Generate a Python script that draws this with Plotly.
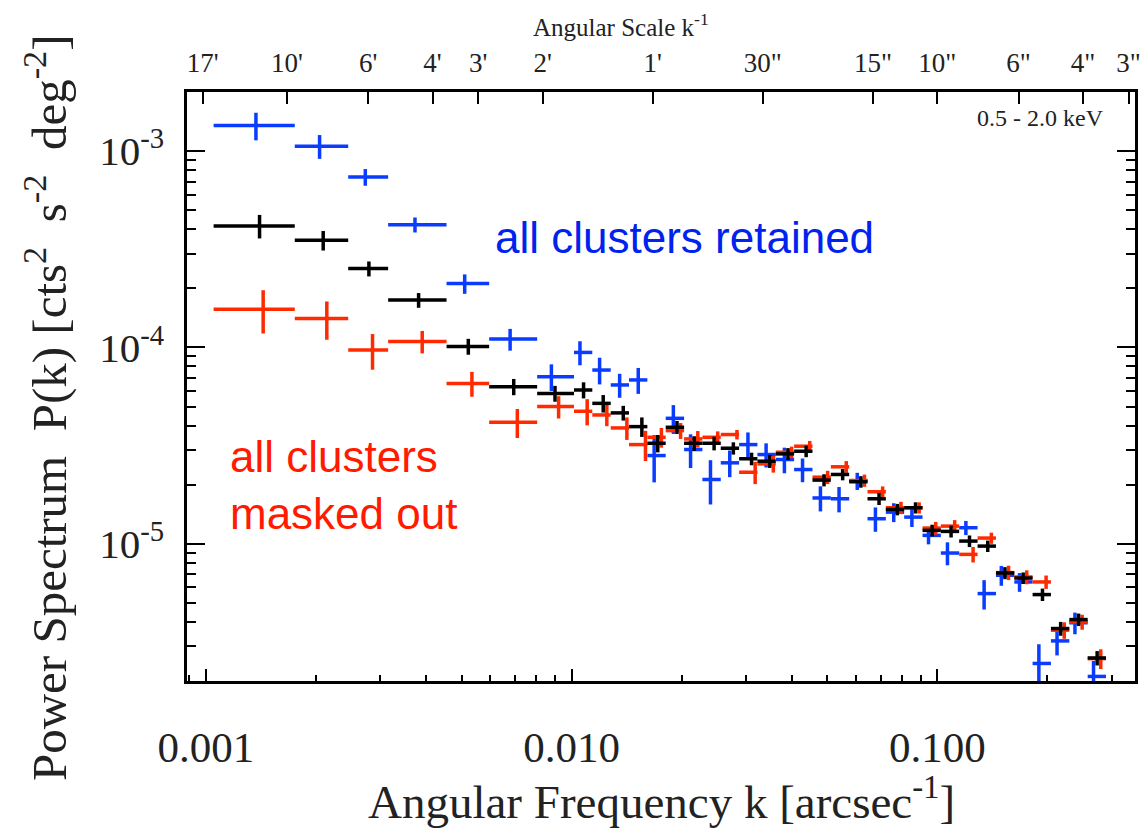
import plotly.graph_objects as go

# ---------------- data ----------------
# bin edges in angular frequency k [arcsec^-1]
k_edges = [0.00105, 0.00175, 0.00245, 0.00315, 0.00455, 0.00595, 0.00805, 0.01015,
           0.01139, 0.01279, 0.01435, 0.01611, 0.01808, 0.02030, 0.02278, 0.02557,
           0.02870, 0.03221, 0.03616, 0.04058, 0.04555, 0.05113, 0.05739, 0.06441,
           0.07229, 0.08114, 0.09108, 0.1022, 0.1147, 0.1288, 0.1446, 0.1623,
           0.1821, 0.2044, 0.2295, 0.2576, 0.2891]
# bin centres
k_center = [0.001402, 0.002093, 0.002791, 0.003816, 0.005218, 0.006945, 0.009006,
            0.01078, 0.01220, 0.01384, 0.01556, 0.01720, 0.01941, 0.02163, 0.02452,
            0.02768, 0.03104, 0.03480, 0.03905, 0.04377, 0.04899, 0.05508, 0.06177,
            0.06926, 0.07772, 0.08714, 0.09674, 0.1090, 0.1224, 0.1373, 0.1530,
            0.1716, 0.1938, 0.2173, 0.2432, 0.2734]

# all clusters retained (blue)
p_retained = [1.351e-3, 1.060e-3, 7.38e-4, 4.22e-4, 2.115e-4, 1.103e-4, 7.1e-5, 9.43e-5,
              7.67e-5, 6.44e-5, 6.83e-5, 2.814e-5, 4.355e-5, 3.02e-5, 2.125e-5, 2.584e-5,
              3.2e-5, 2.847e-5, 2.686e-5, 2.388e-5, 1.711e-5, 1.695e-5, 2.088e-5, 1.341e-5,
              1.449e-5, 1.367e-5, 1.103e-5, 8.97e-6, 1.207e-5, 5.575e-6, 6.91e-6, 6.39e-6,
              2.457e-6, 3.2e-6, 3.96e-6, 2.11e-6]
e_retained = [2.17e-4, 1.47e-4, 7.2e-5, 3.7e-5, 2.4e-5, 1.4e-5, 1.1e-5, 1.32e-5,
              1.19e-5, 9.0e-6, 1.03e-5, 7.6e-6, 7.3e-6, 5.9e-6, 5.4e-6, 4.0e-6,
              4.9e-6, 4.0e-6, 4.0e-6, 3.3e-6, 2.5e-6, 2.5e-6, 2.1e-6, 1.9e-6,
              1.6e-6, 1.5e-6, 1.1e-6, 1.2e-6, 1.0e-6, 9.5e-7, 8.0e-7, 7.0e-7,
              6.2e-7, 5.0e-7, 5.0e-7, 4.2e-7]

# intermediate (black)
p_mid = [4.16e-4, 3.516e-4, 2.52e-4, 1.742e-4, 1.012e-4, 6.31e-5, 5.83e-5, 6.07e-5,
         5.19e-5, 4.64e-5, 3.95e-5, 3.25e-5, 3.92e-5, 3.25e-5, 3.25e-5, 3.066e-5,
         2.71e-5, 2.633e-5, 2.87e-5, 2.96e-5, 2.11e-5, 2.254e-5, 2.07e-5, 1.695e-5,
         1.496e-5, 1.526e-5, 1.17e-5, 1.156e-5, 1.032e-5, 9.73e-6, 7.10e-6, 6.69e-6,
         5.51e-6, 3.70e-6, 4.11e-6, 2.62e-6]
e_mid = [5.7e-5, 4.0e-5, 2.2e-5, 1.5e-5, 9.4e-6, 6.0e-6, 5.4e-6, 5.7e-6,
         5.3e-6, 4.0e-6, 4.5e-6, 3.3e-6, 3.0e-6, 2.8e-6, 2.6e-6, 2.2e-6,
         2.0e-6, 2.0e-6, 2.0e-6, 2.0e-6, 1.5e-6, 1.5e-6, 1.4e-6, 1.2e-6,
         1.0e-6, 1.0e-6, 8.0e-7, 8.0e-7, 7.0e-7, 6.5e-7, 5.0e-7, 4.5e-7,
         4.0e-7, 3.0e-7, 3.0e-7, 2.2e-7]

# all clusters masked out (red)
p_masked = [1.567e-4, 1.404e-4, 9.7e-5, 1.073e-4, 6.56e-5, 4.157e-5, 4.995e-5, 4.73e-5,
            4.53e-5, 3.89e-5, 3.2e-5, 3.486e-5, 3.77e-5, 3.42e-5, 3.486e-5, 3.6e-5,
            2.314e-5, 2.553e-5, 2.925e-5, 3.14e-5, 2.183e-5, 2.466e-5, 2.10e-5, 1.84e-5,
            1.526e-5, 1.526e-5, 1.202e-5, 1.23e-5, 8.83e-6, 1.069e-5, 7.13e-6, 6.77e-6,
            6.39e-6, 3.63e-6, 4.0e-6, 2.6e-6]
e_masked = [3.9e-5, 3.1e-5, 2.0e-5, 1.4e-5, 9.5e-6, 7.0e-6, 6.5e-6, 7.2e-6,
            5.6e-6, 5.1e-6, 5.6e-6, 4.0e-6, 3.5e-6, 3.3e-6, 2.5e-6, 2.0e-6,
            3.0e-6, 2.5e-6, 2.0e-6, 2.0e-6, 1.7e-6, 1.7e-6, 1.5e-6, 1.2e-6,
            1.1e-6, 1.0e-6, 9.0e-7, 9.0e-7, 8.0e-7, 7.0e-7, 6.0e-7, 5.5e-7,
            5.0e-7, 3.5e-7, 3.5e-7, 3.0e-7]

# top axis: angular scale in arcsec and its labels
scale_arcsec = [1020, 600, 360, 240, 180, 120, 60, 30, 15, 10, 6, 4, 3]
scale_labels = ["17'", "10'", "6'", "4'", "3'", "2'", "1'", '30"', '15"', '10"', '6"', '4"', '3"']

x_tickvals = [0.001, 0.01, 0.1]
x_ticktext = ["0.001", "0.010", "0.100"]
y_tickvals = [1e-3, 1e-4, 1e-5]
y_ticktext = ["10<sup>-3</sup>", "10<sup>-4</sup>", "10<sup>-5</sup>"]

# ---------------- styling ----------------
BLUE = "#0a3cff"
RED = "#ff2a00"
BLACK = "#000000"
SERIF = "Liberation Serif, Times New Roman, serif"
SANS = "Liberation Sans, Arial, sans-serif"
DODGE = 1.023  # small horizontal offset between the three series
NB = "\u00a0"

lo = k_edges[:-1]
hi = k_edges[1:]

fig = go.Figure()


def add_series(kfac, p, e, color):
    kx = [k * kfac for k in k_center]
    fig.add_trace(go.Scatter(
        x=kx, y=p, mode="markers",
        marker=dict(size=2, color=color),
        error_x=dict(type="data", symmetric=False,
                     array=[h - x for h, x in zip(hi, kx)],
                     arrayminus=[x - l for x, l in zip(kx, lo)],
                     thickness=3.5, width=0, color=color),
        error_y=dict(type="data", array=e, thickness=3.5, width=0, color=color),
        showlegend=False, hoverinfo="x+y",
    ))


add_series(1 / DODGE, p_retained, e_retained, BLUE)
add_series(DODGE, p_masked, e_masked, RED)
add_series(1.0, p_mid, e_mid, BLACK)

# invisible trace to anchor the top axis
fig.add_trace(go.Scatter(x=[0.01], y=[1e-4], xaxis="x2", mode="markers",
                         marker=dict(opacity=0), showlegend=False, hoverinfo="skip"))

xrange = [-3.0516, -0.4597]
yrange = [-5.699, -2.699]

minor_x = [m * 10 ** d for d in (-4, -3, -2, -1) for m in range(2, 10)]
minor_y = [m * 10 ** d for d in (-6, -5, -4, -3) for m in range(2, 10)]

fig.update_layout(
    width=1147, height=830,
    margin=dict(l=187, r=6, t=92, b=149),
    paper_bgcolor="white", plot_bgcolor="white",
    font=dict(family=SERIF, color="#111"),
    xaxis=dict(type="log", range=xrange, showgrid=False, zeroline=False,
               showline=True, linecolor="black", linewidth=2.5, mirror=False,
               ticks="inside", ticklen=12, tickwidth=2, tickcolor="black",
               tickmode="array", tickvals=x_tickvals, ticktext=x_ticktext,
               tickfont=dict(family=SERIF, size=43, color="#222"),
               ticklabelstandoff=27,
               minor=dict(tickmode="array", tickvals=minor_x, ticks="inside",
                          ticklen=6, tickwidth=2, tickcolor="black", showgrid=False)),
    xaxis2=dict(type="log", range=xrange, overlaying="x", side="top",
                showgrid=False, zeroline=False, showline=True, linecolor="black",
                linewidth=2.5, ticks="inside", ticklen=12, tickwidth=2, tickcolor="black",
                tickmode="array", tickvals=[1 / s for s in scale_arcsec],
                ticktext=scale_labels,
                tickfont=dict(family=SERIF, size=27, color="#222"),
                ticklabelstandoff=6),
    yaxis=dict(type="log", range=yrange, showgrid=False, zeroline=False,
               showline=True, linecolor="black", linewidth=2.5, mirror="ticks",
               ticks="inside", ticklen=18, tickwidth=2, tickcolor="black",
               tickmode="array", tickvals=y_tickvals, ticktext=y_ticktext,
               tickfont=dict(family=SERIF, size=41, color="#222"),
               ticklabelstandoff=12,
               minor=dict(tickmode="array", tickvals=minor_y, ticks="inside",
                          ticklen=9, tickwidth=2, tickcolor="black", showgrid=False)),
)

ann = [
    dict(text="all clusters retained", x=0.3229, y=0.7538, xanchor="left", yanchor="middle",
         font=dict(family=SANS, size=44, color="#0022ee")),
    dict(text="all clusters<br>masked out", x=0.043, y=0.333, xanchor="left", yanchor="middle",
         align="left", font=dict(family=SANS, size=44, color="#ff1a00")),
    dict(text="0.5 - 2.0 keV", x=0.9696, y=0.956, xanchor="right", yanchor="middle",
         font=dict(family=SERIF, size=24, color="#222")),
    dict(text="Angular Scale k<sup>-1</sup>", x=0.458, y=1.1138, xanchor="center", yanchor="middle",
         font=dict(family=SERIF, size=25, color="#222")),
    dict(text="Angular Frequency k [arcsec<sup>-1</sup>]", x=0.5, y=-0.200,
         xanchor="center", yanchor="middle",
         font=dict(family=SERIF, size=47, color="#222")),
    dict(text="Power Spectrum" + NB + NB + "P(k) [cts<sup>2</sup>" + NB + " s<sup>-2</sup>"
         + NB + " deg<sup>-2</sup>]",
         x=-0.1488, y=0.465, xanchor="center", yanchor="middle", textangle=-90,
         font=dict(family=SERIF, size=49, color="#222")),
]
for a in ann:
    fig.add_annotation(xref="paper", yref="paper", showarrow=False, **a)

fig.write_html("out.html")
